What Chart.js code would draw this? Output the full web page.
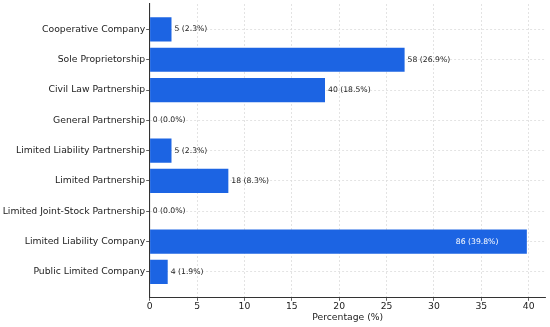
<!DOCTYPE html>
<html>
<head>
<meta charset="utf-8">
<script src="https://cdn.jsdelivr.net/npm/chart.js@4"></script>
<style>
  body { margin: 0; background: #fff; }
</style>
</head>
<body>
<canvas id="graph" width="550" height="327"></canvas>
<script>
const categories = [
    "Cooperative Company", "Sole Proprietorship", "Civil Law Partnership", "General Partnership",
    "Limited Liability Partnership", "Limited Partnership", "Limited Joint-Stock Partnership",
    "Limited Liability Company", "Public Limited Company"
];
const counts = [5, 58, 40, 0, 5, 18, 0, 86, 4];
const percents = [2.3, 26.9, 18.5, 0.0, 2.3, 8.3, 0.0, 39.8, 1.9];
const xTicks = [0, 5, 10, 15, 20, 25, 30, 35, 40];

const font = "'DejaVu Sans', sans-serif";
const textColor = '#222';

const valueLabels = {
    id: 'valueLabels',
    afterDatasetsDraw(chart) {
        const ctx = chart.ctx;
        const xs = chart.scales.x, ys = chart.scales.y;
        const top = Math.max(...percents);
        ctx.save();
        ctx.font = "7.7px " + font;
        ctx.textBaseline = 'middle';
        percents.forEach((p, i) => {
            const txt = counts[i] + ' (' + p.toFixed(1) + '%)';
            const y = ys.getPixelForValue(i);
            if (p === top) {
                ctx.fillStyle = '#fff';
                ctx.textAlign = 'right';
                ctx.fillText(txt, xs.getPixelForValue(p - 3), y);
            } else {
                ctx.fillStyle = textColor;
                ctx.textAlign = 'left';
                ctx.fillText(txt, xs.getPixelForValue(p) + 3, y);
            }
        });
        ctx.restore();
    }
};

var ctx = document.getElementById('graph').getContext('2d');

var myGraph = new Chart(ctx, {
    type: 'bar',
    data: {
        datasets: [{
            data: percents.map((p, i) => ({ x: p, y: i })),
            backgroundColor: '#1c64e3',
            borderWidth: 0,
            barPercentage: 0.8,
            categoryPercentage: 1
        }]
    },
    options: {
        indexAxis: 'y',
        responsive: false,
        animation: false,
        plugins: {
            legend: { display: false },
            tooltip: { enabled: false }
        },
        layout: {
            padding: { left: 0, top: 4, right: 4.3, bottom: 0 }
        },
        scales: {
            x: {
                type: 'linear',
                min: 0,
                max: 41.79,
                bounds: 'data',
                afterBuildTicks: s => { s.ticks = xTicks.map(v => ({ value: v })); },
                afterFit: s => { s.height = 29.7; s.paddingLeft = 0; s.paddingRight = 0; },
                ticks: {
                    color: textColor,
                    font: { family: font, size: 9.25 },
                    padding: 0,
                    maxRotation: 0
                },
                grid: {
                    color: '#dcdcdc',
                    tickColor: '#333',
                    tickLength: 3.5,
                    lineWidth: 0.8
                },
                border: { color: '#333', width: 1.1, dash: [2, 2] },
                title: {
                    display: true,
                    text: 'Percentage (%)',
                    color: textColor,
                    font: { family: font, size: 9.25 },
                    padding: { top: 0, bottom: 4 }
                }
            },
            y: {
                type: 'linear',
                reverse: true,
                offset: false,
                bounds: 'data',
                min: -0.84,
                max: 8.84,
                afterBuildTicks: s => { s.ticks = categories.map((c, i) => ({ value: i })); },
                afterFit: s => { s.width = 149.7; s.paddingTop = 0; s.paddingBottom = 0; },
                ticks: {
                    color: textColor,
                    font: { family: font, size: 9.25 },
                    padding: 1,
                    callback: v => categories[v]
                },
                grid: {
                    offset: false,
                    color: '#dcdcdc',
                    tickColor: '#333',
                    tickLength: 3.5,
                    lineWidth: 0.8
                },
                border: { color: '#333', width: 1.1, dash: [2, 2] }
            }
        }
    },
    plugins: [valueLabels]
});
</script>
</body>
</html>
